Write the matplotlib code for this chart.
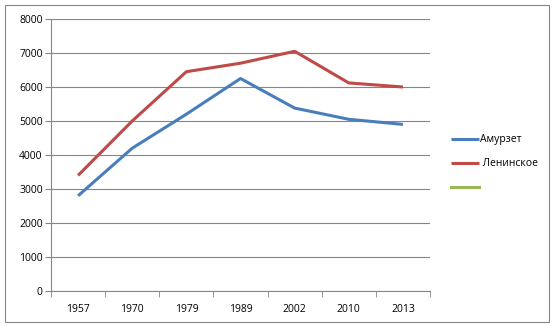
import matplotlib
matplotlib.use("Agg")
import matplotlib.pyplot as plt
from matplotlib.patches import Rectangle
import numpy as np

# данные
years = ["1957", "1970", "1979", "1989", "2002", "2010", "2013"]
amurzet = [2800, 4200, 5200, 6250, 5380, 5050, 4900]
leninskoe = [3400, 5000, 6450, 6700, 7050, 6120, 6000]
y_ticks = [0, 1000, 2000, 3000, 4000, 5000, 6000, 7000, 8000]

plt.rcParams["font.family"] = ["Open Sans", "DejaVu Sans"]

fig = plt.figure(figsize=(5.57, 3.26), dpi=100)
ax = fig.add_axes([51 / 557, 1 - 291 / 326, (430 - 51) / 557, (291 - 19) / 326])

x = np.arange(len(years))
ax.plot(x, amurzet, color="#4A7EBB", lw=2.2, label="Амурзет", solid_capstyle="butt")
ax.plot(x, leninskoe, color="#BE4B48", lw=2.2, label=" Ленинское", solid_capstyle="butt")
ax.plot([], [], color="#98B954", lw=2.2, label=" ")

ax.set_xlim(-0.5, len(years) - 0.5)
ax.set_ylim(0, 8000)
ax.set_yticks(y_ticks)
ax.set_yticklabels([str(v) for v in y_ticks], fontsize=7.5)
ax.set_xticks(x)
ax.set_xticklabels(years, fontsize=7.5)
ax.set_xticks(np.arange(len(years) + 1) - 0.5, minor=True)
ax.tick_params(axis="x", which="major", length=0, pad=9)
ax.tick_params(axis="x", which="minor", length=4, color="#868686", direction="out")
ax.tick_params(axis="y", length=4, color="#868686", direction="out", pad=2)
ax.grid(axis="y", color="#868686", lw=0.8)
ax.set_axisbelow(True)
for s in ["top", "right"]:
    ax.spines[s].set_visible(False)
for s in ["left", "bottom"]:
    ax.spines[s].set_color("#868686")
    ax.spines[s].set_linewidth(0.8)

ax.legend(loc="center left", bbox_to_anchor=(1.03, 0.467), frameon=False, fontsize=7.5,
          handlelength=2.7, handletextpad=0.1, labelspacing=1.25)

# рамка
fig.patches.append(Rectangle((5 / 557, 4 / 326), 544 / 557, 317 / 326, transform=fig.transFigure,
                             fill=False, edgecolor="#868686", lw=0.8))

fig.savefig("out.png", dpi=100)
